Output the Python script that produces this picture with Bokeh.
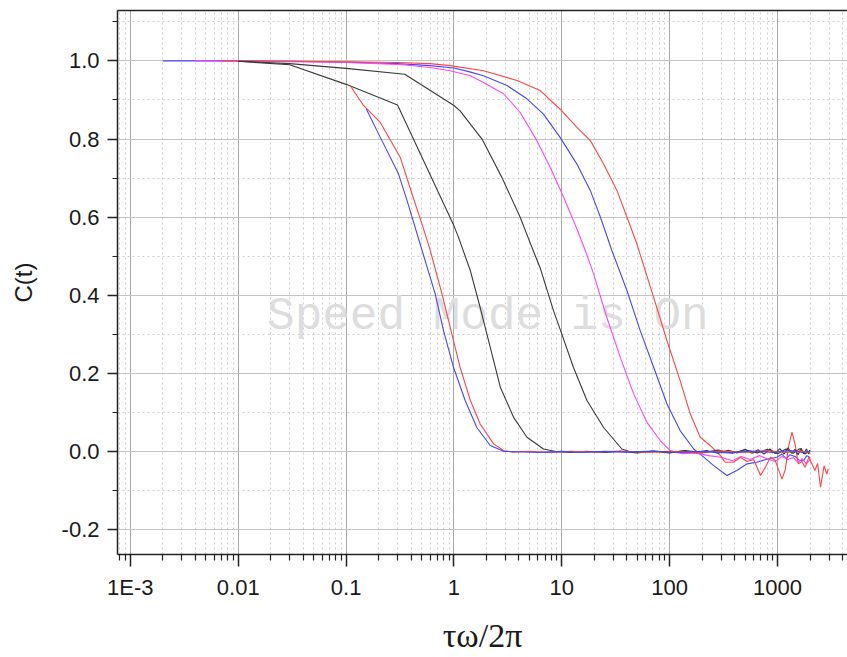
from bokeh.plotting import figure
from bokeh.models import FixedTicker, Label, LogAxis, PrintfTickFormatter
from bokeh.embed import file_html
from bokeh.resources import INLINE

# ---- data ----
blue_b_x = [0.002, 0.01, 0.03, 0.1, 0.3, 0.6, 1.0, 1.4, 1.88, 3.1, 4.75, 6.76, 9.6, 13.8, 18.4, 22.8, 29.1,
            40.2, 53.3, 71, 94.4, 125, 167, 207, 254, 339, 418, 523, 640, 780, 985, 1100, 1200, 1300, 1450,
            1600, 1740, 1870, 2000]
blue_b_y = [1.0, 1.0, 0.999, 0.997, 0.993, 0.988, 0.982, 0.972, 0.962, 0.937, 0.903, 0.864, 0.805, 0.736, 0.668,
            0.60, 0.515, 0.412, 0.31, 0.216, 0.122, 0.054, 0.007, -0.014, -0.035, -0.061, -0.048, -0.031, -0.027,
            -0.02, -0.014, -0.006, -0.018, -0.008, -0.012, -0.022, -0.023, -0.010, -0.015]

mag_x = [0.004, 0.01, 0.03, 0.1, 0.34, 0.6, 0.92, 1.42, 1.88, 2.88, 4.11, 5.87, 7.8, 10.4, 13.8, 16.5, 19.7, 26.1,
         34.8, 46.3, 61.6, 81.9, 101, 130, 170, 230, 300, 380, 460, 560, 680, 800, 950, 1100, 1250, 1400, 1550,
         1700, 1850, 2000]
mag_y = [1.0, 0.999, 0.998, 0.996, 0.99, 0.983, 0.975, 0.962, 0.945, 0.916, 0.868, 0.796, 0.728, 0.651, 0.57,
         0.515, 0.455, 0.344, 0.242, 0.148, 0.075, 0.028, 0.003, -0.005, -0.003, -0.01, -0.014, -0.023, -0.012,
         -0.02, -0.01, -0.018, -0.025, -0.012, -0.02, -0.015, -0.028, -0.018, -0.031, -0.02]

red_b_x = [0.007, 0.03, 0.1, 0.3, 0.6, 0.92, 1.88, 3.84, 6.3, 9.6, 13.8, 18.4, 24.4, 32.5, 40.2, 49.6, 71, 94.4,
           125, 155, 192, 237, 296, 326, 390, 452, 520, 600, 695, 770, 858, 950, 1100, 1180, 1260, 1360, 1450,
           1560, 1680, 1800, 1950, 2080, 2220, 2350, 2500, 2700, 2860, 2950]
red_b_y = [1.0, 0.999, 0.998, 0.996, 0.993, 0.988, 0.975, 0.95, 0.924, 0.877, 0.83, 0.796, 0.736, 0.668, 0.60,
           0.532, 0.395, 0.284, 0.182, 0.097, 0.037, 0.016, -0.01, -0.027, -0.027, -0.014, -0.025, -0.02, -0.061,
           -0.04, -0.014, -0.022, -0.07, -0.045, 0.011, 0.05, 0.02, -0.031, -0.025, -0.04, -0.014, -0.031, -0.048,
           -0.03, -0.091, -0.036, -0.057, -0.044]

black_a_x = [0.01, 0.03, 0.1, 0.3, 1.0, 1.1, 1.42, 1.75, 2.17, 2.69, 3.57, 4.75, 6.76, 9.0, 12, 17, 25, 35, 50,
             70, 100, 140, 200, 280, 380, 500, 650, 800, 1000, 1200, 1400, 1600, 1800, 2000]
black_a_y = [0.999, 0.99, 0.94, 0.887, 0.578, 0.549, 0.463, 0.369, 0.267, 0.165, 0.088, 0.037, 0.007, 0.0,
             -0.002, 0.001, -0.002, 0.001, -0.003, 0.002, -0.002, 0.003, -0.003, 0.004, -0.004, 0.005, -0.003,
             0.006, -0.005, 0.007, -0.004, 0.008, -0.006, 0.003]

black_b_x = [0.01, 0.03, 0.1, 0.35, 1.0, 1.14, 1.82, 2.78, 4.11, 5.28, 6.34, 8.37, 10, 12.8, 17.1, 24.4, 36, 43,
             50, 70, 100, 130, 170, 220, 280, 350, 420, 500, 580, 660, 750, 850, 950, 1050, 1150, 1250, 1350,
             1450, 1550, 1650, 1750, 1850, 1950, 2000]
black_b_y = [0.999, 0.993, 0.981, 0.966, 0.886, 0.872, 0.80, 0.702, 0.60, 0.523, 0.468, 0.361, 0.301, 0.216,
             0.131, 0.062, 0.007, 0.0, -0.002, 0.001, -0.003, 0.002, -0.002, 0.003, -0.004, 0.004, -0.003, 0.006,
             -0.004, 0.005, -0.006, 0.007, -0.005, 0.008, -0.006, 0.010, -0.004, 0.006, -0.008, 0.009, -0.005,
             0.007, -0.006, 0.004]

red_a_x = [0.109, 0.145, 0.207, 0.318, 0.408, 0.505, 0.603, 0.774, 0.924, 1.14, 1.42, 1.75, 2.33, 2.88, 3.5, 5,
           8, 12, 20, 35, 60, 100, 180, 300, 500, 800, 1200, 1600, 2000]
red_a_y = [0.937, 0.886, 0.843, 0.753, 0.66, 0.583, 0.515, 0.404, 0.318, 0.216, 0.131, 0.071, 0.02, 0.003,
           -0.001, 0.001, -0.002, 0.001, -0.001, 0.002, -0.002, 0.001, -0.003, 0.002, -0.002, 0.003, -0.002,
           0.002, -0.001]

blue_a_x = [0.154, 0.207, 0.306, 0.367, 0.50, 0.67, 0.80, 0.99, 1.27, 1.63, 2.17, 2.88, 4, 6, 10, 15, 25, 40, 70,
            120, 200, 350, 600, 900, 1300, 1700, 2000]
blue_a_y = [0.877, 0.805, 0.711, 0.643, 0.52, 0.404, 0.31, 0.216, 0.131, 0.062, 0.016, 0.001, 0.0, -0.002,
            0.001, -0.002, 0.001, -0.001, 0.002, -0.002, 0.001, -0.003, 0.002, -0.002, 0.003, -0.002, 0.001]

x_major = [0.001, 0.01, 0.1, 1, 10, 100, 1000]
x_labels = ["1E-3", "0.01", "0.1", "1", "10", "100", "1000"]
y_major = [-0.2, 0.0, 0.2, 0.4, 0.6, 0.8, 1.0]
y_minor = [-0.1, 0.1, 0.3, 0.5, 0.7, 0.9, 1.1]

x_minor = []
for dec in [0.0001, 0.001, 0.01, 0.1, 1, 10, 100, 1000]:
    for k in range(2, 10):
        x_minor.append(k * dec)

p = figure(width=847, height=657, x_axis_type="log", x_range=(7.6e-4, 4450), y_range=(-0.263, 1.129),
           output_backend="svg", toolbar_location=None,
           min_border_left=117, min_border_right=0, min_border_top=10, min_border_bottom=103)
p.outline_line_color = None
p.background_fill_color = "white"
p.border_fill_color = "white"

xt = FixedTicker(ticks=x_major, minor_ticks=x_minor)
yt = FixedTicker(ticks=y_major, minor_ticks=y_minor)
p.xaxis.ticker = xt
p.yaxis.ticker = yt
p.xgrid.ticker = xt
p.ygrid.ticker = yt

for g in (p.xgrid, p.ygrid):
    g.grid_line_color = "#a8a8a8"
    g.grid_line_width = 1
    g.minor_grid_line_color = "#cfcfcf"
    g.minor_grid_line_dash = "2 3"
    g.minor_grid_line_width = 1
p.ygrid.grid_line_color = "#c4c4c4"

p.xaxis.major_label_overrides = {v: s for v, s in zip(x_major, x_labels)}
p.yaxis.formatter = PrintfTickFormatter(format="%.1f")

for ax in (p.xaxis, p.yaxis):
    ax.axis_line_color = "#222222"
    ax.axis_line_width = 1.5
    ax.major_tick_line_color = "#222222"
    ax.minor_tick_line_color = "#222222"
    ax.major_tick_line_width = 1.5
    ax.minor_tick_line_width = 1.2
    ax.major_tick_in = 0
    ax.minor_tick_in = 0
    ax.major_label_text_font = "Liberation Sans"
    ax.major_label_text_font_size = "22px"
    ax.major_label_text_color = "#1a1a1a"
    ax.axis_label_text_font_style = "normal"
    ax.axis_label_text_color = "#1a1a1a"

p.xaxis.major_tick_out = 12
p.xaxis.minor_tick_out = 6
p.yaxis.major_tick_out = 10
p.yaxis.minor_tick_out = 5
p.xaxis.major_label_standoff = 8
p.yaxis.major_label_standoff = 8

p.yaxis.axis_label = "C(t)"
p.yaxis.axis_label_text_font = "Liberation Sans"
p.yaxis.axis_label_text_font_size = "24px"
p.yaxis.axis_label_standoff = 22

p.xaxis.axis_label = "τω/2π"
p.xaxis.axis_label_text_font = "Liberation Serif"
p.xaxis.axis_label_text_font_size = "34px"
p.xaxis.axis_label_standoff = 14

top = LogAxis(ticker=FixedTicker(ticks=[]), major_tick_out=0, minor_tick_out=0, major_tick_in=0,
              minor_tick_in=0, major_label_text_font_size="0px", axis_line_color="#222222",
              axis_line_width=1.5)
p.add_layout(top, "above")

wm = Label(x=0.0185, y=0.344, text="Speed Mode is On", text_font="Liberation Mono",
           text_font_size="46px", text_color="#dddddd", text_baseline="alphabetic", level="underlay")
p.add_layout(wm)

series = [
    (blue_b_x, blue_b_y, "#4646ff"),
    (mag_x, mag_y, "#ff46ff"),
    (red_b_x, red_b_y, "#ff4545"),
    (black_a_x, black_a_y, "#3a3a3a"),
    (black_b_x, black_b_y, "#3a3a3a"),
    (red_a_x, red_a_y, "#ff4545"),
    (blue_a_x, blue_a_y, "#4646ff"),
]
for xs, ys, c in series:
    p.line(xs, ys, line_color=c, line_width=1.1)

open("out.html", "w").write(file_html(p, INLINE))
